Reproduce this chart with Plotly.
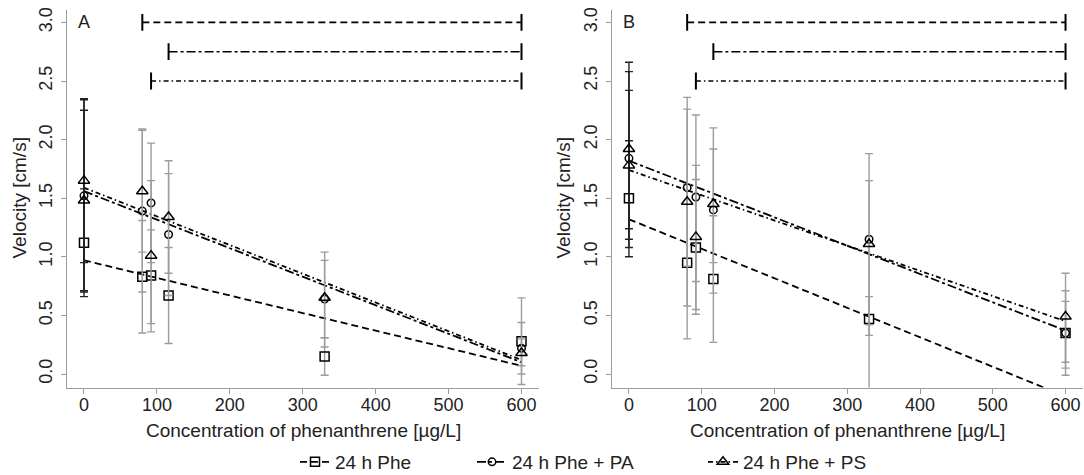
import plotly.graph_objects as go
import numpy as np

# ---------------- data ----------------
conc = [0, 80, 92, 116, 330, 600]
conc_ps = [0, 0, 80, 92, 116, 330, 600]

# Panel A
A_phe_y  = [1.12, 0.83, 0.84, 0.67, 0.15, 0.28]
A_phe_hi = [1.58, 1.31, 1.23, 1.08, 0.31, 0.65]
A_phe_lo = [0.66, 0.35, 0.43, 0.26, -0.01, -0.09]

A_pa_y  = [1.52, 1.39, 1.46, 1.19, 0.64, 0.22]
A_pa_hi = [2.34, 2.08, 1.97, 1.71, 0.97, 0.44]
A_pa_lo = [0.70, 0.70, 0.95, 0.67, 0.31, 0.00]

A_ps_y  = [1.65, 1.48, 1.56, 1.01, 1.34, 0.65, 0.18]
A_ps_hi = [2.35, 2.25, 2.09, 1.65, 1.82, 1.04, 0.30]
A_ps_lo = [0.95, 0.71, 1.04, 0.36, 0.86, 0.23, 0.07]

# Panel B
B_phe_y  = [1.50, 0.95, 1.08, 0.81, 0.47, 0.35]
B_phe_hi = [1.99, 1.62, 1.66, 1.35, 0.66, 0.62]
B_phe_lo = [1.00, 0.30, 0.51, 0.27, 0.33, 0.05]

B_pa_y  = [1.84, 1.59, 1.51, 1.40, 1.15, 0.35]
B_pa_hi = [2.58, 2.26, 2.21, 1.92, 1.88, 0.71]
B_pa_lo = [1.08, 0.92, 0.79, 0.69, 0.42, -0.01]

B_ps_y  = [1.92, 1.78, 1.47, 1.17, 1.45, 1.11, 0.49]
B_ps_hi = [2.66, 2.42, 2.36, 1.78, 2.10, 1.65, 0.86]
B_ps_lo = [1.24, 1.15, 0.58, 0.55, 0.95, -0.40, 0.10]

# Regression lines: value at concentration 0 and at 600
fit_x = [0, 600]
A_fit = {"phe": [0.97, 0.07], "pa": [1.56, 0.10], "ps": [1.59, 0.12]}
B_fit = {"phe": [1.32, -0.19], "pa": [1.82, 0.37], "ps": [1.74, 0.45]}

# Significance brackets (start concentration, end concentration, height)
sig_start = {"phe": 80, "pa": 116, "ps": 92}
sig_end = 600
sig_y = {"phe": 3.0, "pa": 2.75, "ps": 2.5}

series_names = {"phe": "24 h Phe", "pa": "24 h Phe + PA", "ps": "24 h Phe + PS"}
x_ticks = [0, 100, 200, 300, 400, 500, 600]
y_ticks = [0.0, 0.5, 1.0, 1.5, 2.0, 2.5, 3.0]

# ---------------- styles ----------------
symbols = {"phe": "square-open", "pa": "circle-open", "ps": "triangle-up-open"}
msize = {"phe": 9, "pa": 7.5, "ps": 10}
dashes = {"phe": "7px,4px", "pa": "9px,3px,3px,3px", "ps": "5px,3px,1.5px,3px"}
GRAY = "#9c9c9c"
FONT = "Liberation Sans, Arial, sans-serif"

fig = go.Figure()

panels = {
    "A": dict(xa="x", ya="y",
              data={"phe": (conc, A_phe_y, A_phe_hi, A_phe_lo),
                    "pa": (conc, A_pa_y, A_pa_hi, A_pa_lo),
                    "ps": (conc_ps, A_ps_y, A_ps_hi, A_ps_lo)},
              fit=A_fit),
    "B": dict(xa="x2", ya="y2",
              data={"phe": (conc, B_phe_y, B_phe_hi, B_phe_lo),
                    "pa": (conc, B_pa_y, B_pa_hi, B_pa_lo),
                    "ps": (conc_ps, B_ps_y, B_ps_hi, B_ps_lo)},
              fit=B_fit),
}

for pname, p in panels.items():
    # regression lines
    for key in ["phe", "pa", "ps"]:
        fig.add_trace(go.Scatter(
            x=fit_x, y=p["fit"][key], mode="lines", xaxis=p["xa"], yaxis=p["ya"],
            line=dict(color="black", width=1.8, dash=dashes[key]),
            showlegend=False, hoverinfo="skip"))
    # significance brackets
    for key in ["phe", "pa", "ps"]:
        fig.add_trace(go.Scatter(
            x=[sig_start[key], sig_end], y=[sig_y[key], sig_y[key]],
            mode="lines+markers", xaxis=p["xa"], yaxis=p["ya"],
            line=dict(color="black", width=1.6, dash=dashes[key]),
            marker=dict(symbol="line-ns", size=12, color="black",
                        line=dict(width=2, color="black")),
            showlegend=False, hoverinfo="skip"))
    # points with error bars (controls black, treatments gray)
    for ctrl in [False, True]:
        for key in ["phe", "pa", "ps"]:
            xs, ys, hi, lo = p["data"][key]
            xs = np.array(xs, float); ys = np.array(ys); hi = np.array(hi); lo = np.array(lo)
            m = (xs == 0) if ctrl else (xs != 0)
            fig.add_trace(go.Scatter(
                x=xs[m], y=ys[m], mode="markers", xaxis=p["xa"], yaxis=p["ya"],
                marker=dict(symbol=symbols[key], size=msize[key], color="black",
                            line=dict(width=1.5, color="black")),
                error_y=dict(type="data", symmetric=False,
                             array=hi[m] - ys[m], arrayminus=ys[m] - lo[m],
                             color="#222222" if ctrl else GRAY,
                             thickness=1.4, width=4),
                showlegend=False, hoverinfo="skip"))

# legend proxies (one legend each so they can be spaced like the original)
legend_ids = {"phe": "legend", "pa": "legend2", "ps": "legend3"}
for key in ["phe", "pa", "ps"]:
    fig.add_trace(go.Scatter(
        x=[None], y=[None], mode="lines+markers", name=series_names[key],
        legend=legend_ids[key],
        line=dict(color="black", width=1.8, dash=dashes[key]),
        marker=dict(symbol=symbols[key], size=msize[key], color="black",
                    line=dict(width=1.5, color="black"))))

W, H = 1084, 475
yb, yt = 387.5, 9.5
ydom = [(H - yb) / H, (H - yt) / H]
xdomA = [67 / W, 539 / W]
xdomB = [612 / W, 1083 / W]
xr = [-23.3, 624]
yr = [-0.115, 3.11]

axis_common = dict(showgrid=False, zeroline=False, showline=True, linecolor=GRAY,
                   linewidth=1.4, ticks="outside", ticklen=5, tickcolor=GRAY,
                   tickwidth=1.4, tickfont=dict(size=18, color="#222"),
                   automargin=False)

fig.update_layout(
    template="none",
    width=W, height=H, margin=dict(l=0, r=0, t=0, b=0, autoexpand=False),
    plot_bgcolor="white", paper_bgcolor="white",
    font=dict(family=FONT, size=18, color="#222"),
    xaxis=dict(domain=xdomA, range=xr, tickvals=x_ticks, anchor="y",
               ticklabelstandoff=-4, **axis_common),
    yaxis=dict(domain=ydom, range=yr, tickvals=y_ticks, tickformat=".1f",
               tickangle=-90, anchor="x", ticklabelstandoff=2, **axis_common),
    xaxis2=dict(domain=xdomB, range=xr, tickvals=x_ticks, anchor="y2",
                ticklabelstandoff=-4, **axis_common),
    yaxis2=dict(domain=ydom, range=yr, tickvals=y_ticks, tickformat=".1f",
                tickangle=-90, anchor="x2", ticklabelstandoff=2, **axis_common),
)

leg_common = dict(orientation="h", yanchor="middle", y=(H - 462) / H, xanchor="left",
                  font=dict(size=19, color="#222"), bgcolor="rgba(0,0,0,0)",
                  itemsizing="trace")
fig.update_layout(
    legend=dict(x=295 / W, **leg_common),
    legend2=dict(x=472 / W, **leg_common),
    legend3=dict(x=703 / W, **leg_common),
)

annotations = [
    dict(text="A", x=0, y=3.0, xref="x", yref="y", showarrow=False,
         font=dict(size=18, color="#222"), xanchor="center", yanchor="middle"),
    dict(text="B", x=0, y=3.0, xref="x2", yref="y2", showarrow=False,
         font=dict(size=18, color="#222"), xanchor="center", yanchor="middle"),
]
for dom in [xdomA, xdomB]:
    annotations.append(dict(text="Concentration of phenanthrene [µg/L]",
                            x=(dom[0] + dom[1]) / 2, y=(H - 430) / H,
                            xref="paper", yref="paper", showarrow=False,
                            font=dict(size=19, color="#222"),
                            xanchor="center", yanchor="middle"))
for xpx in [19, 563]:
    annotations.append(dict(text="Velocity [cm/s]", x=xpx / W,
                            y=(ydom[0] + ydom[1]) / 2, xref="paper", yref="paper",
                            showarrow=False, textangle=-90,
                            font=dict(size=19, color="#222"),
                            xanchor="center", yanchor="middle"))
fig.update_layout(annotations=annotations)

fig.write_html("out.html", config={"displayModeBar": False},
               post_script="document.body.style.margin='0';document.body.style.overflow='hidden';")
